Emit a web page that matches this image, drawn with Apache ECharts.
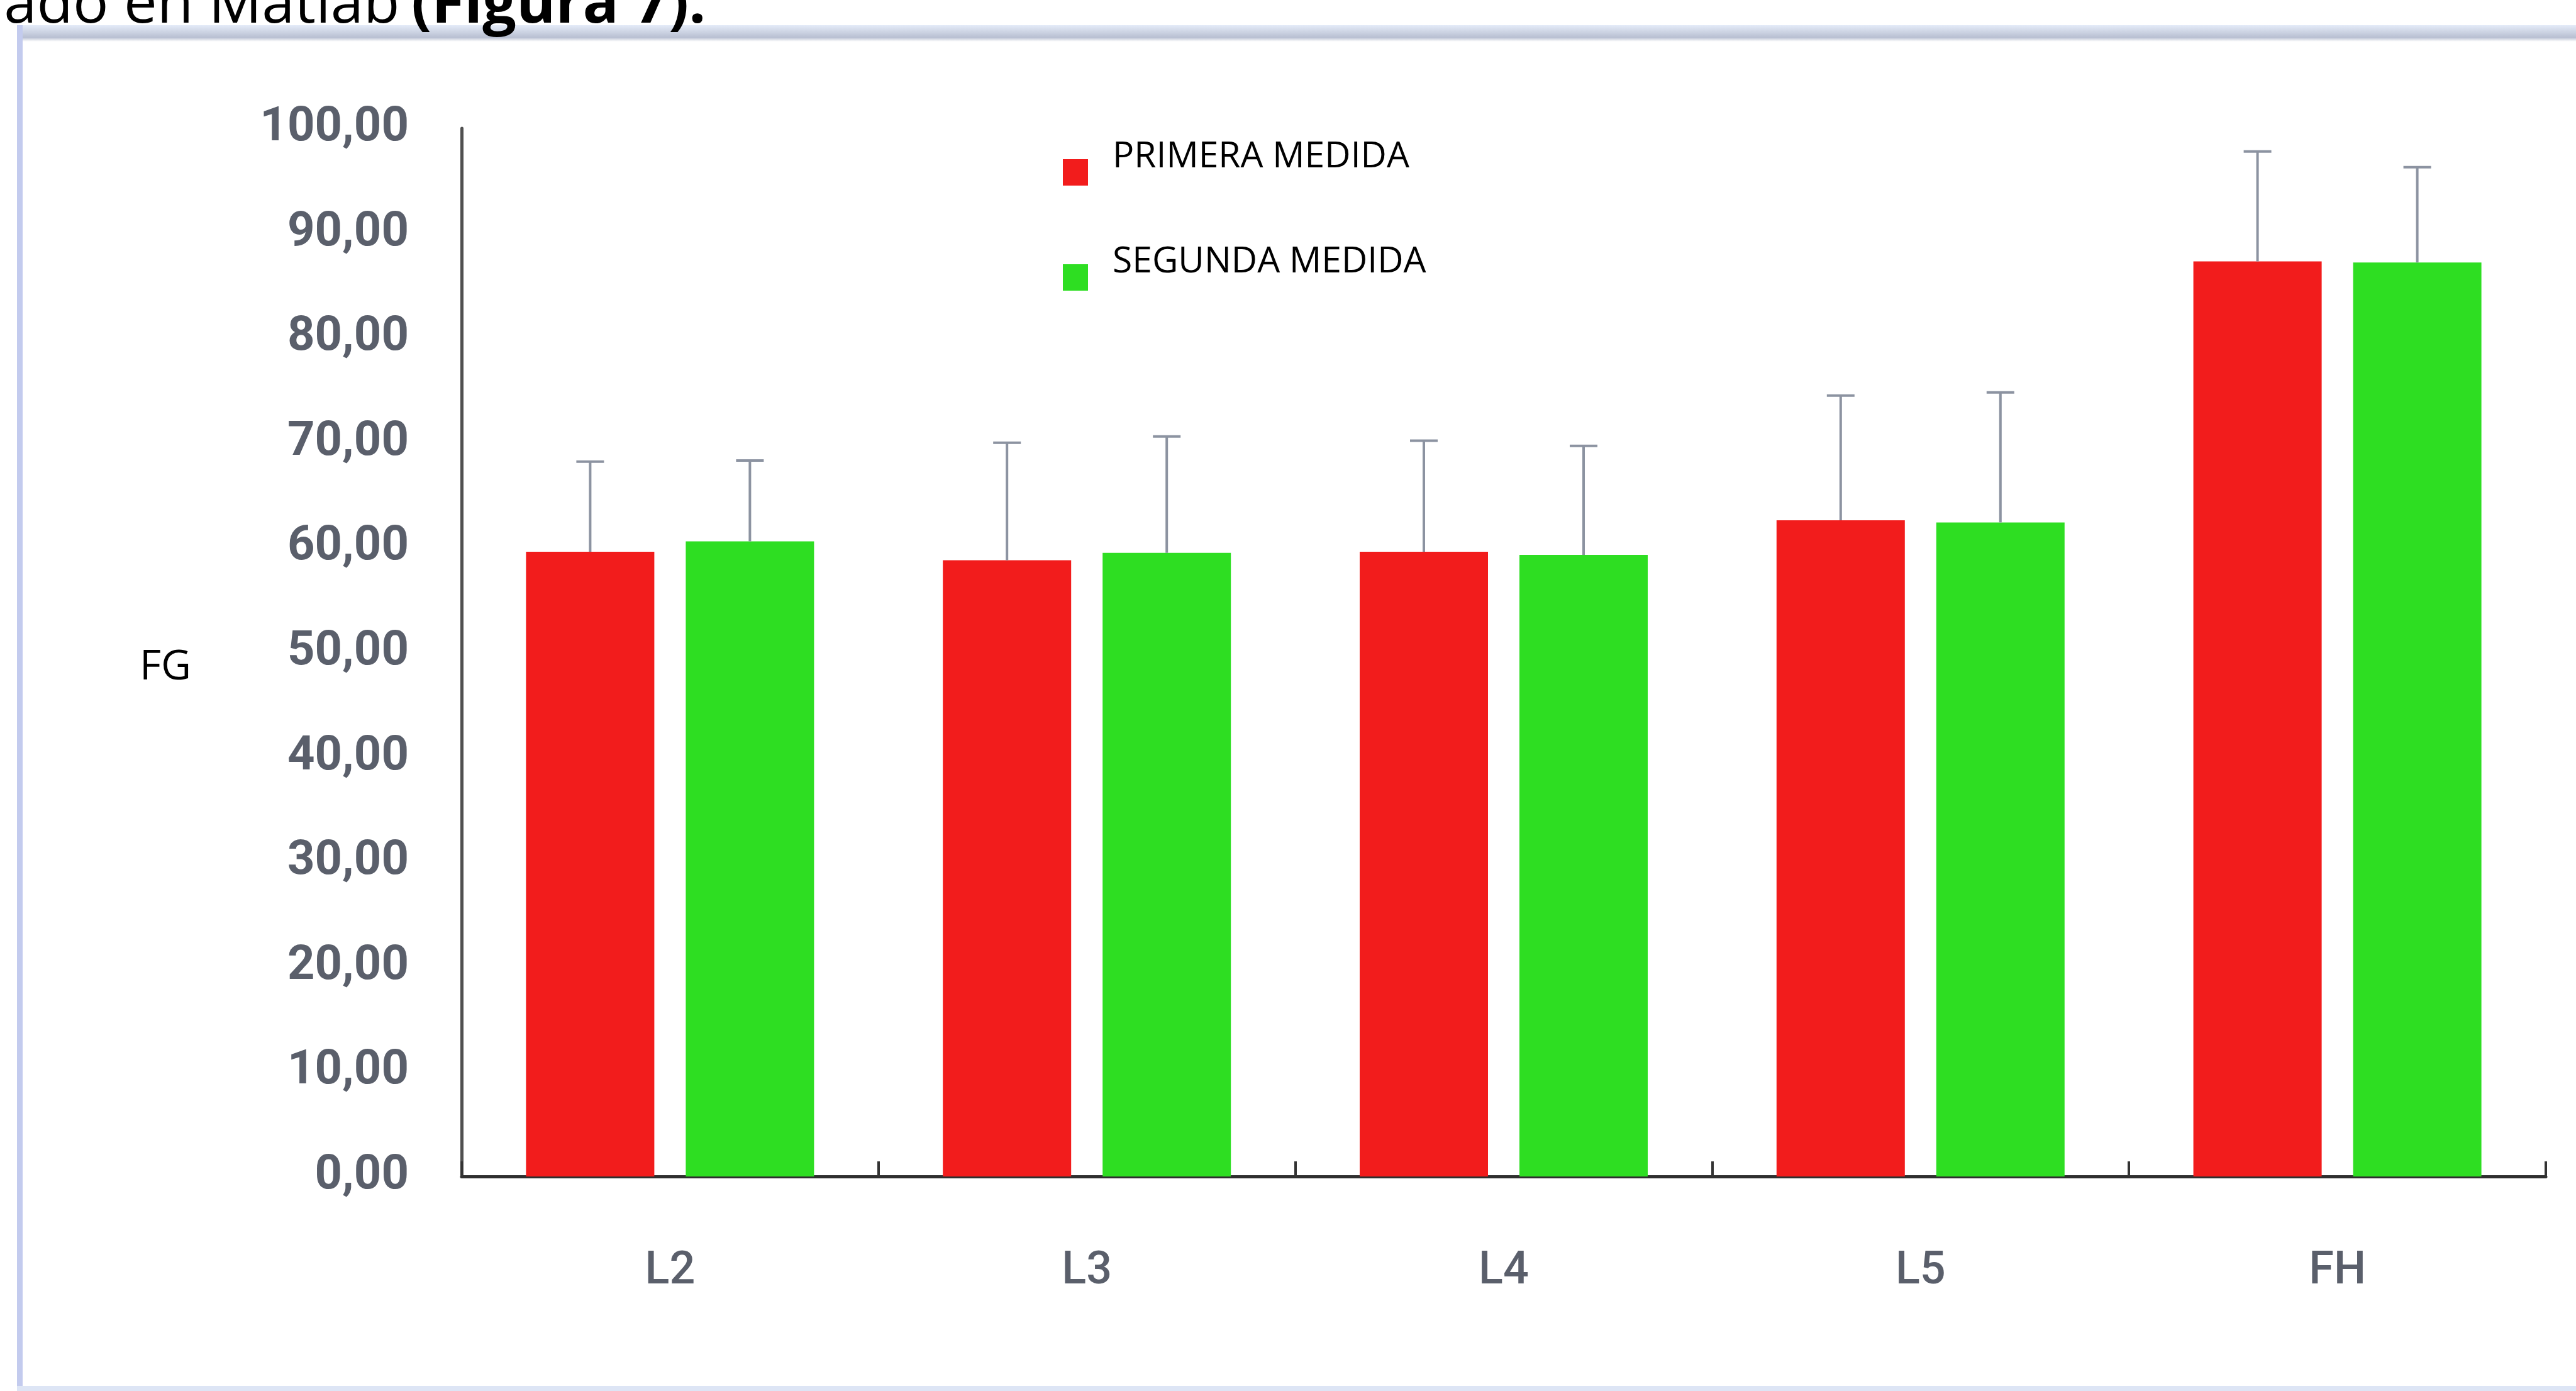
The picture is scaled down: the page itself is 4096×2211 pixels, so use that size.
<!DOCTYPE html>
<html>
<head>
<meta charset="utf-8">
<title>FG por región</title>
<script src="https://cdn.jsdelivr.net/npm/echarts@6.0.0/dist/echarts.min.js"></script>
<style>
  html, body { margin: 0; padding: 0; background: #fff; }
  #chart { width: 4096px; height: 2211px; }
</style>
</head>
<body>
<div id="chart"></div>
<script>
// datos
const categories = ["L2", "L3", "L4", "L5", "FH"];
const seriesNames = ["PRIMERA MEDIDA", "SEGUNDA MEDIDA"];
const primeraMedia = [59.6, 58.8, 59.6, 62.6, 87.3];
const primeraDE = [8.6, 11.2, 10.6, 11.9, 10.5];
const segundaMedia = [60.6, 59.5, 59.3, 62.4, 87.2];
const segundaDE = [7.7, 11.1, 10.4, 12.4, 9.1];
const yMin = 0, yMax = 100, yStep = 10;

const BAR_W = 204;   // ancho de barra (px)
const BAR_GAP = 50;  // hueco entre las dos barras (px)
const colors = ["#f21c1c", "#2ede22"];
const labelFont = "Roboto, 'Liberation Sans', sans-serif";
const textFont = "'Open Sans', 'Noto Sans', sans-serif";
// icono de leyenda: cuadrado en la parte baja de la caja (el texto queda un poco más alto)
const legendIcon = "path://M0,0 M0,48 L40,48 L40,90 L0,90 Z";

// barras de error (solo la mitad superior)
function errorSeries(means, sds, side) {
  return {
    type: "custom",
    name: "err" + side,
    z: 5,
    encode: { x: 0, y: 1 },
    data: means.map((m, i) => [i, m, sds[i]]),
    renderItem: function (params, api) {
      const base = api.coord([api.value(0), api.value(1)]);
      const top = api.coord([api.value(0), api.value(1) + api.value(2)]);
      const x = base[0] + side * (BAR_W + BAR_GAP) / 2;
      const style = { stroke: "#8c93a1", lineWidth: 4 };
      return {
        type: "group",
        children: [
          { type: "line", shape: { x1: x, y1: base[1], x2: x, y2: top[1] }, style: style },
          { type: "line", shape: { x1: x - 22, y1: top[1], x2: x + 22, y2: top[1] }, style: style }
        ]
      };
    }
  };
}

const chart = echarts.init(document.getElementById("chart"));
chart.setOption({
  backgroundColor: "#ffffff",
  animation: false,
  color: colors,
  grid: { left: 734, right: 48, top: 204, bottom: 341, outerBoundsMode: "none" },
  legend: {
    data: seriesNames,
    orient: "vertical",
    left: 1690,
    top: 205,
    padding: 0,
    itemGap: 77,
    itemWidth: 40,
    itemHeight: 90,
    icon: legendIcon,
    textStyle: {
      fontFamily: textFont,
      fontSize: 57,
      color: "#000",
      padding: [0, 0, 0, 34]
    }
  },
  xAxis: {
    type: "category",
    data: categories,
    axisLine: { lineStyle: { color: "#2f2f2f", width: 5 } },
    axisTick: { show: true, inside: true, length: 24, lineStyle: { color: "#333", width: 4 } },
    axisLabel: {
      margin: 116,
      fontFamily: labelFont,
      fontSize: 72,
      fontWeight: 500,
      color: "#5a5f6b"
    },
    splitLine: { show: false }
  },
  yAxis: {
    type: "value",
    min: yMin,
    max: yMax,
    interval: yStep,
    name: "FG",
    nameLocation: "middle",
    nameRotate: 0,
    nameGap: 512,
    nameTextStyle: { fontFamily: textFont, fontSize: 66, color: "#000", align: "left", verticalAlign: "top", lineHeight: 48 },
    axisLine: { show: true, lineStyle: { color: "#505050", width: 5 } },
    axisTick: { show: false },
    splitLine: { show: false },
    axisLabel: {
      margin: 84,
      fontFamily: labelFont,
      fontSize: 76,
      fontWeight: "bold",
      color: "#5a5f6b",
      formatter: v => v.toFixed(2).replace(".", ",")
    }
  },
  series: [
    { type: "bar", name: seriesNames[0], data: primeraMedia, barWidth: BAR_W, barGap: (BAR_GAP / BAR_W * 100) + "%", itemStyle: { color: colors[0] } },
    { type: "bar", name: seriesNames[1], data: segundaMedia, barWidth: BAR_W, itemStyle: { color: colors[1] } },
    errorSeries(primeraMedia, primeraDE, -1),
    errorSeries(segundaMedia, segundaDE, 1)
  ],
  graphic: [
    // marco de la imagen
    { type: "rect", shape: { x: 27, y: 40, width: 4069, height: 26 }, style: { fill: new echarts.graphic.LinearGradient(0, 0, 0, 1, [
      { offset: 0, color: "#e4ebf8" }, { offset: 0.75, color: "#b9c0d2" }, { offset: 1, color: "#ffffff" }]) }, silent: true },
    { type: "rect", shape: { x: 27, y: 40, width: 9, height: 2171 }, style: { fill: "#c3cbee" }, silent: true },
    { type: "rect", shape: { x: 27, y: 2203, width: 4069, height: 8 }, style: { fill: "#dde5f5" }, silent: true },
    // texto del documento, cortado arriba
    { type: "text", x: 660, y: 9, style: { text: "ado en Matlab ", font: "94px " + textFont, fill: "#000", align: "right", verticalAlign: "middle" }, silent: true },
    { type: "text", x: 654, y: 9, style: { text: "(Figura 7).", font: "bold 95px " + textFont, fill: "#000", align: "left", verticalAlign: "middle" }, silent: true }
  ]
});
</script>
</body>
</html>
